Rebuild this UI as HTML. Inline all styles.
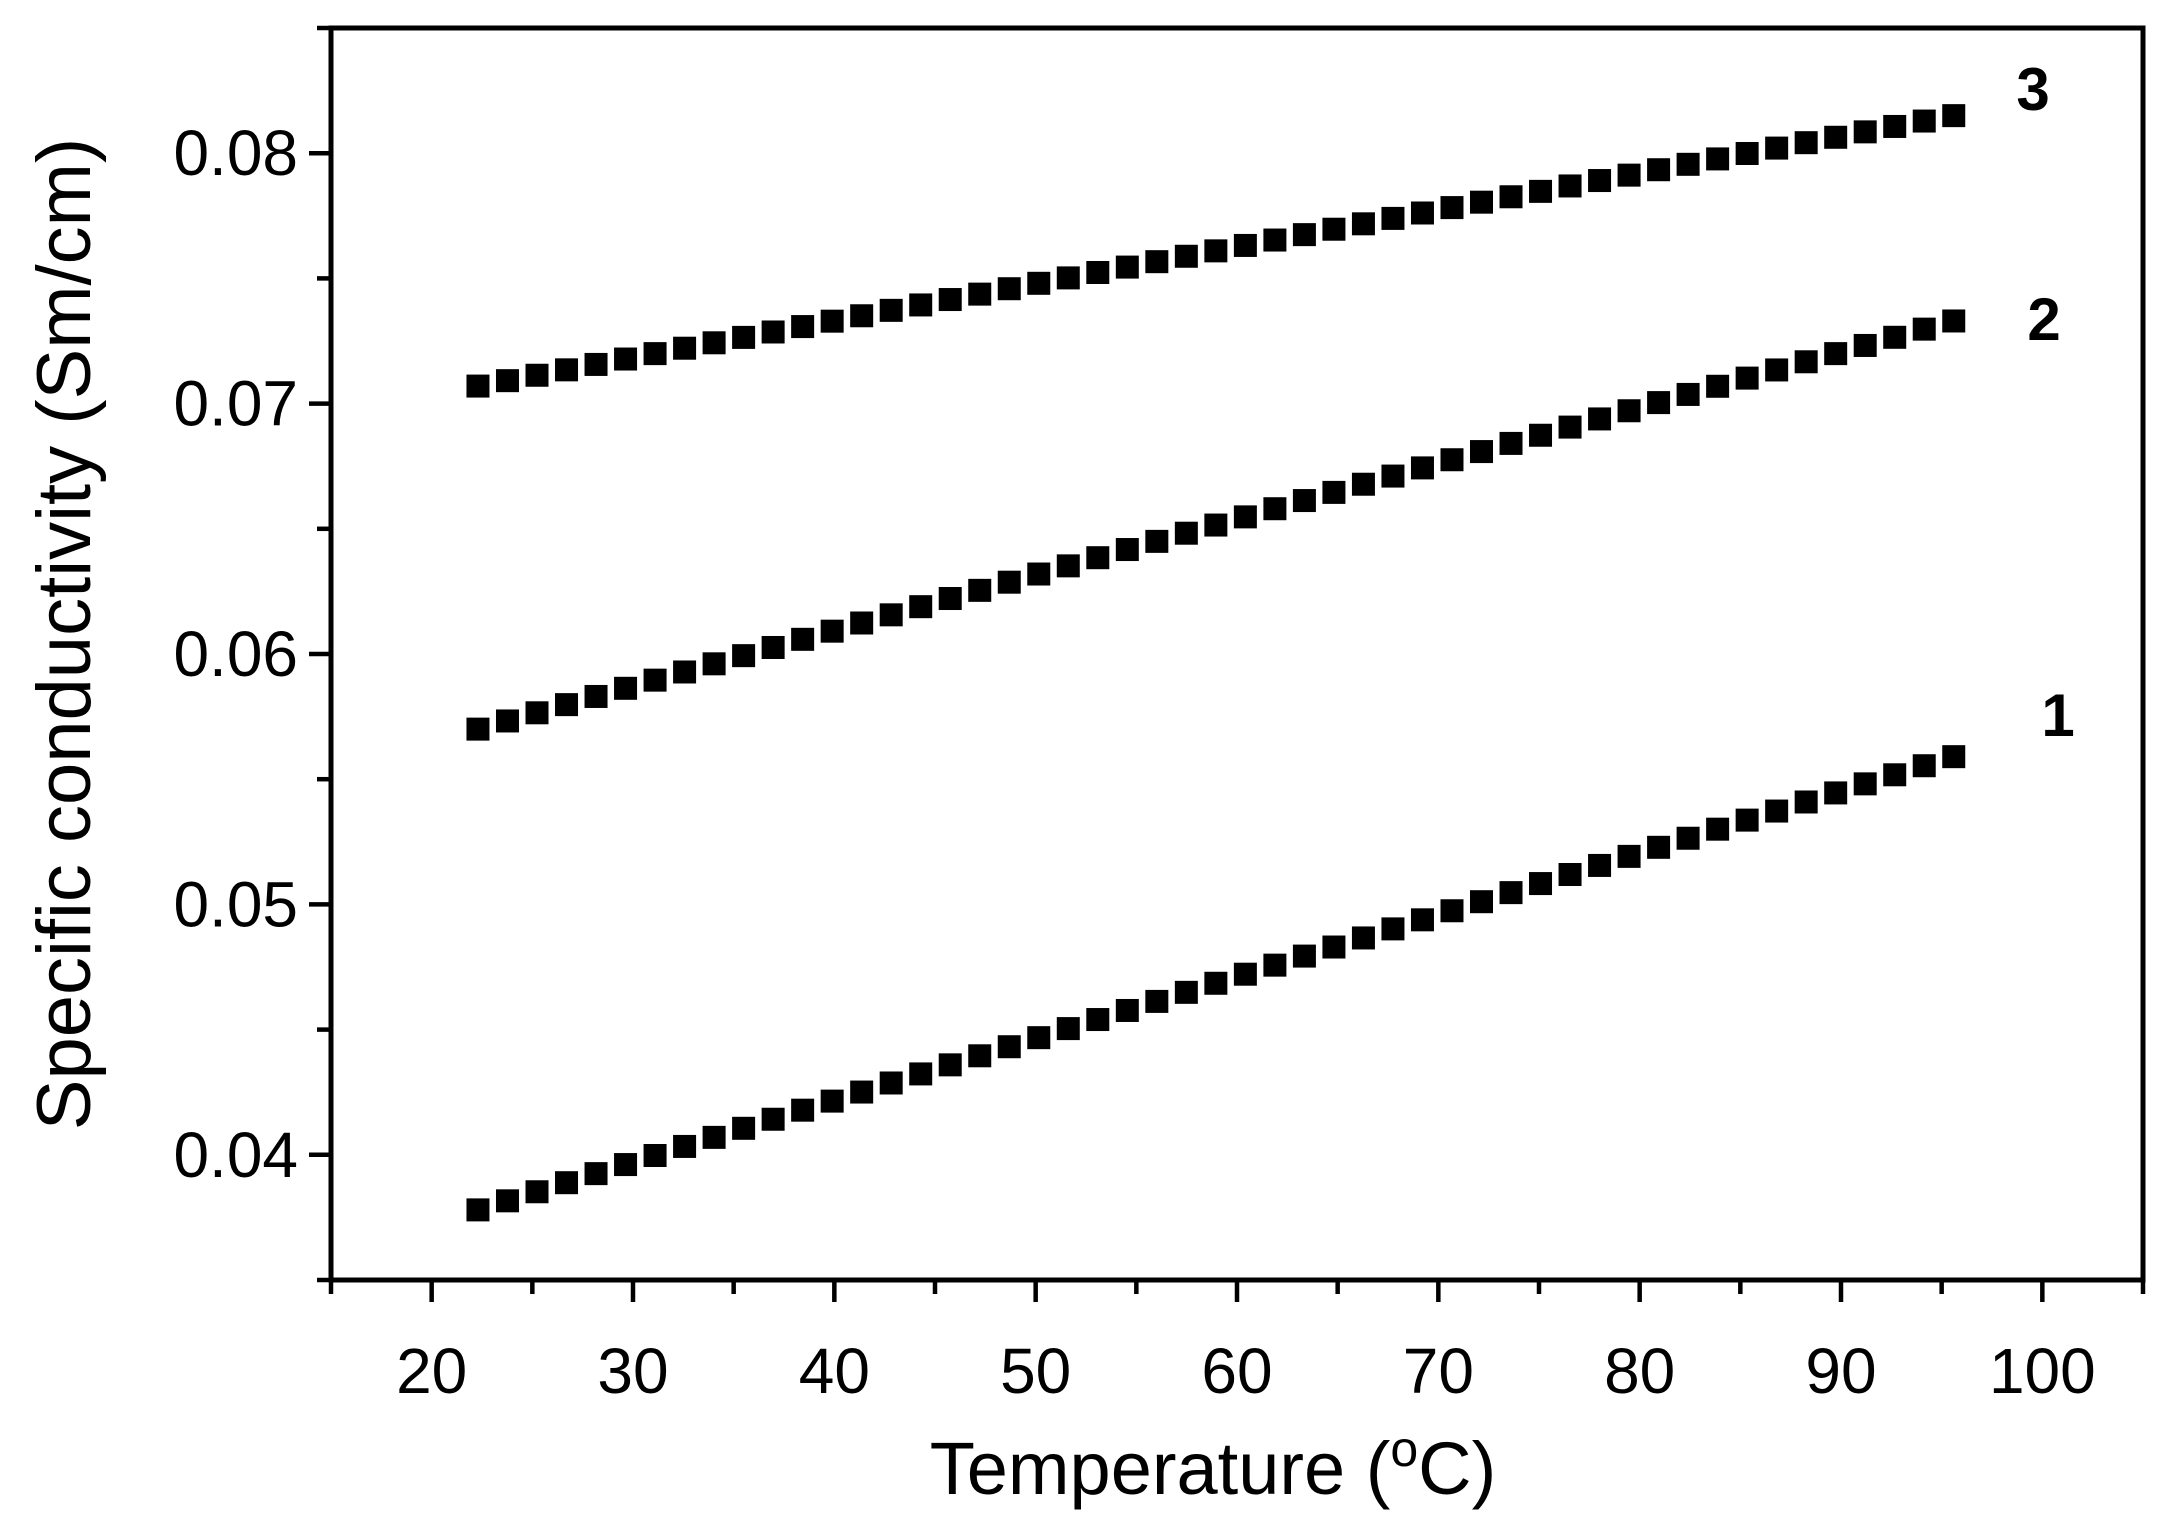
<!DOCTYPE html>
<html><head><meta charset="utf-8"><style>html,body{margin:0;padding:0;background:#fff}svg{display:block}</style></head>
<body>
<svg id="s" xmlns="http://www.w3.org/2000/svg" width="2182" height="1538" viewBox="0 0 2182 1538" font-family="Liberation Sans, Arial, sans-serif">
<rect width="2182" height="1538" fill="#fff"/>
<g id="pts" fill="#000"></g>
<rect x="331" y="28" width="1812" height="1252" fill="none" stroke="#000" stroke-width="5"/>
<g id="ticks" stroke="#000" stroke-width="4.5"></g>
<g id="labels" font-size="64" fill="#000"></g>
<text x="2033" y="110" font-size="60" font-weight="bold" text-anchor="middle">3</text>
<text x="2044" y="340" font-size="60" font-weight="bold" text-anchor="middle">2</text>
<text x="2058" y="736" font-size="60" font-weight="bold" text-anchor="middle">1</text>
<text transform="translate(90,634) rotate(-90)" font-size="76" text-anchor="middle">Specific conductivity (Sm/cm)</text>
<text x="1213" y="1494" font-size="74" text-anchor="middle">Temperature (<tspan font-size="50" dy="-28">o</tspan><tspan dy="28">C)</tspan></text>
</svg>
<script>
var NS="http://www.w3.org/2000/svg";
function X(v){return 331+(v-15)*1812/90;}
function Y(v){return 1280-(v-0.035)*1252/0.05;}
function el(p,t,a){var e=document.createElementNS(NS,t);for(var k in a)e.setAttribute(k,a[k]);document.getElementById(p).appendChild(e);return e;}
for(var x=15;x<=105;x+=5){var maj=x%10==0;el("ticks","line",{x1:X(x),x2:X(x),y1:1280,y2:1280+(maj?22:14)});
 if(maj&&x>=20&&x<=100){var t=el("labels","text",{x:X(x),y:1393,"text-anchor":"middle"});t.textContent=x;}}
for(var i=0;i<=10;i++){var v=0.035+i*0.005;var maj=i%2==1;el("ticks","line",{x1:331,x2:331-(maj?22:14),y1:Y(v),y2:Y(v)});
 if(maj){var t=el("labels","text",{x:298,y:Y(v)+22,"text-anchor":"end"});t.textContent=v.toFixed(2);}}
var ser=[[0.0378,0.0559],[0.0570,0.0733],[0.0707,0.0815]];
var n=51;
ser.forEach(function(s){for(var j=0;j<n;j++){var xv=22.3+j*(95.6-22.3)/(n-1);var f=j/(n-1);
 var yv=s[0]+(s[1]-s[0])*f;el("pts","rect",{x:X(xv)-11.5,y:Y(yv)-11.5,width:23,height:23});}});
</script>
</body></html>
